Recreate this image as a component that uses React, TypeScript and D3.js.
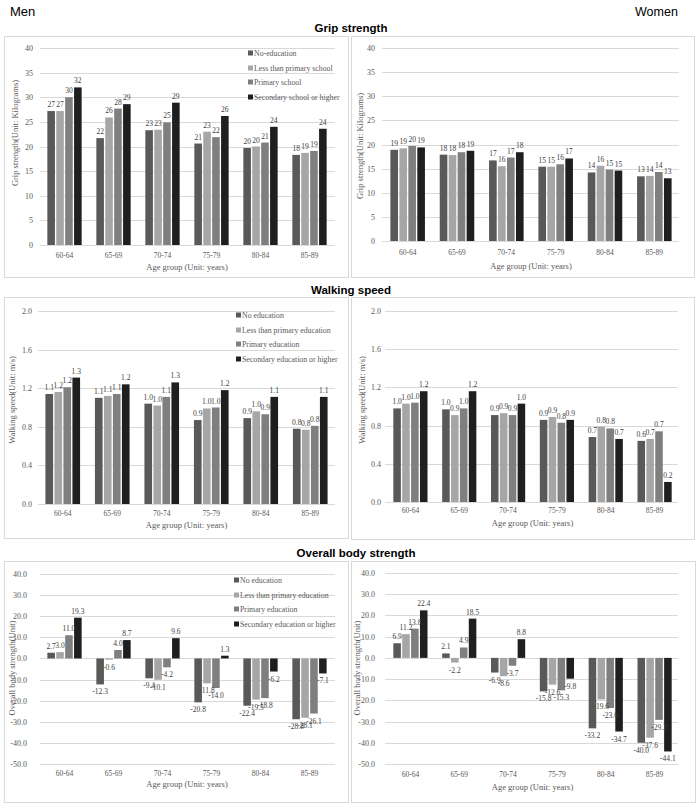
import React from "react";
import * as d3 from "d3";

const AGE_GROUPS = ["60-64", "65-69", "70-74", "75-79", "80-84", "85-89"];
const GRIP_SERIES = ["No-education", "Less than primary school", "Primary school", "Secondary school or higher"];
const EDU_SERIES = ["No education", "Less than primary education", "Primary education", "Secondary education or higher"];
const SERIES_COLORS = ["#595959", "#a6a6a6", "#7f7f7f", "#1f1f1f"];

// Grip strength (kg) - Men
const gripMenNoEdu = [27.2, 21.7, 23.3, 20.6, 19.7, 18.3];
const gripMenLessPrim = [27.2, 25.9, 23.4, 23.0, 20.0, 18.7];
const gripMenPrim = [30.0, 27.7, 24.9, 21.9, 20.8, 19.1];
const gripMenSec = [32.0, 28.6, 28.9, 26.2, 24.0, 23.6];
// Grip strength (kg) - Women
const gripWomenNoEdu = [18.9, 17.9, 16.7, 15.4, 14.2, 13.4];
const gripWomenLessPrim = [19.2, 17.8, 15.5, 15.4, 15.6, 13.5];
const gripWomenPrim = [19.7, 18.4, 17.3, 15.9, 14.8, 14.3];
const gripWomenSec = [19.4, 18.7, 18.4, 17.1, 14.6, 13.0];
// Walking speed (m/s) - Men
const walkMenNoEdu = [1.14, 1.10, 1.04, 0.87, 0.89, 0.78];
const walkMenLessPrim = [1.16, 1.12, 1.02, 0.99, 0.96, 0.77];
const walkMenPrim = [1.21, 1.14, 1.11, 1.00, 0.93, 0.81];
const walkMenSec = [1.31, 1.24, 1.26, 1.18, 1.11, 1.11];
// Walking speed (m/s) - Women
const walkWomenNoEdu = [0.98, 0.97, 0.91, 0.86, 0.68, 0.64];
const walkWomenLessPrim = [1.03, 0.91, 0.93, 0.89, 0.79, 0.66];
const walkWomenPrim = [1.04, 0.98, 0.91, 0.83, 0.77, 0.74];
const walkWomenSec = [1.16, 1.16, 1.03, 0.86, 0.66, 0.21];
// Overall body strength - Men
const bodyMenNoEdu = [2.7, -12.3, -9.4, -20.8, -22.4, -28.8];
const bodyMenLessPrim = [3.0, -0.6, -10.1, -11.8, -19.5, -28.1];
const bodyMenPrim = [11.0, 4.0, -4.2, -14.0, -18.8, -26.1];
const bodyMenSec = [19.3, 8.7, 9.6, 1.3, -6.2, -7.1];
// Overall body strength - Women
const bodyWomenNoEdu = [6.9, 2.1, -6.9, -15.8, -33.2, -40.0];
const bodyWomenLessPrim = [11.2, -2.2, -8.6, -12.6, -19.6, -37.6];
const bodyWomenPrim = [13.8, 4.9, -3.7, -15.3, -23.6, -29.2];
const bodyWomenSec = [22.4, 18.5, 8.8, -9.8, -34.7, -44.1];

const GRIP_TICKS = [0, 5, 10, 15, 20, 25, 30, 35, 40];
const WALK_TICKS = [0, 0.4, 0.8, 1.2, 1.6, 2.0];
const BODY_TICKS = [-50, -40, -30, -20, -10, 0, 10, 20, 30, 40];

const SERIF = "'Liberation Serif', 'Times New Roman', serif";
const SANS = "'Liberation Sans', Arial, sans-serif";
const GRID = "#d9d9d9";
const TXT = "#595959";

type PanelProps = {
  box: [number, number, number, number];
  xRange: [number, number];
  gridX: [number, number];
  yRange: [number, number];
  domain: [number, number];
  ticks: number[];
  tickFmt: (v: number) => string;
  labelFmt: (v: number) => string;
  tickX: number;
  catY: number;
  axisTitleY: number;
  yTitle: string;
  yTitlePos: [number, number];
  series: number[][];
  legend?: string[];
  legendPos?: { sqX: number; textX: number; rows: number[] };
};

function Panel(p: PanelProps) {
  const y = d3.scaleLinear().domain(p.domain).range(p.yRange);
  const x0 = d3.scaleBand<string>().domain(AGE_GROUPS).range(p.xRange).paddingInner(0.3).paddingOuter(0.15);
  const x1 = d3.scaleBand<number>().domain(d3.range(p.series.length)).range([0, x0.bandwidth()]).paddingInner(0.15);
  const y0 = y(0);
  const [bx, by, bw, bh] = p.box;
  const xMid = (p.xRange[0] + p.xRange[1]) / 2;
  return (
    <g>
      <rect x={bx + 0.5} y={by + 0.5} width={bw} height={bh} fill="#fff" stroke={GRID} />
      {p.ticks.map((t) => (
        <g key={"t" + t}>
          <line x1={p.gridX[0]} x2={p.gridX[1]} y1={Math.round(y(t)) + 0.5} y2={Math.round(y(t)) + 0.5} stroke={GRID} />
          <text x={p.tickX} y={y(t) + 3} textAnchor="end" fontFamily={SERIF} fontSize={8} fill={TXT}>
            {p.tickFmt(t)}
          </text>
        </g>
      ))}
      {AGE_GROUPS.map((cat, i) => (
        <g key={cat}>
          {p.series.map((vals, s) => {
            const v = vals[i];
            const bxp = (x0(cat) as number) + (x1(s) as number);
            const yv = y(v);
            return (
              <rect key={s} x={bxp} y={Math.min(yv, y0)} width={x1.bandwidth()} height={Math.abs(yv - y0)} fill={SERIES_COLORS[s]} />
            );
          })}
          {p.series.map((vals, s) => {
            const v = vals[i];
            const cx = (x0(cat) as number) + (x1(s) as number) + x1.bandwidth() / 2;
            const yv = y(v);
            return (
              <text key={"l" + s} x={cx} y={v >= 0 ? yv - 4 : yv + 10} textAnchor="middle" fontFamily={SERIF} fontSize={7.5} fill="#404040">
                {p.labelFmt(v)}
              </text>
            );
          })}
          <text x={(x0(cat) as number) + x0.bandwidth() / 2} y={p.catY + 3} textAnchor="middle" fontFamily={SERIF} fontSize={7.5} fill={TXT}>
            {cat}
          </text>
        </g>
      ))}
      <text x={xMid} y={p.axisTitleY + 3} textAnchor="middle" fontFamily={SERIF} fontSize={8.5} fill={TXT}>
        Age group (Unit: years)
      </text>
      <text
        transform={`translate(${p.yTitlePos[0]},${p.yTitlePos[1]}) rotate(-90)`}
        textAnchor="middle"
        dy="0.35em"
        fontFamily={SERIF}
        fontSize={8.5}
        fill={TXT}
      >
        {p.yTitle}
      </text>
      {p.legend && p.legendPos &&
        p.legend.map((name, s) => (
          <g key={name}>
            <rect x={p.legendPos!.sqX} y={p.legendPos!.rows[s] - 2.5} width={5} height={5} fill={SERIES_COLORS[s]} />
            <text x={p.legendPos!.textX} y={p.legendPos!.rows[s] + 3} fontFamily={SERIF} fontSize={7.8} fill={TXT}>
              {name}
            </text>
          </g>
        ))}
    </g>
  );
}

const f0 = (v: number) => v.toFixed(0);
const f1 = (v: number) => v.toFixed(1);

export default function App() {
  return (
    <div style={{ position: "absolute", left: 0, top: 0 }}>
      <svg width={700} height={807} style={{ display: "block", background: "#fff" }}>
        <text x={10} y={16} fontFamily={SANS} fontSize={13} fill="#000">Men</text>
        <text x={635} y={16} fontFamily={SANS} fontSize={12.5} fill="#000">Women</text>
        <text x={351} y={32} textAnchor="middle" fontFamily={SANS} fontWeight="bold" fontSize={11.5} fill="#000">Grip strength</text>
        <text x={351} y={294} textAnchor="middle" fontFamily={SANS} fontWeight="bold" fontSize={11.5} fill="#000">Walking speed</text>
        <text x={356} y={557} textAnchor="middle" fontFamily={SANS} fontWeight="bold" fontSize={11.5} fill="#000">Overall body strength</text>

        <Panel
          box={[4, 36, 344, 241]}
          xRange={[40, 334]}
          gridX={[40, 335]}
          yRange={[245, 48]}
          domain={[0, 40]}
          ticks={GRIP_TICKS}
          tickFmt={f0}
          labelFmt={f0}
          tickX={33}
          catY={255}
          axisTitleY={267}
          yTitle="Grip strength(Unit: Kilograms)"
          yTitlePos={[15, 133]}
          series={[gripMenNoEdu, gripMenLessPrim, gripMenPrim, gripMenSec]}
          legend={GRIP_SERIES}
          legendPos={{ sqX: 248, textX: 254, rows: [53, 68, 82, 97] }}
        />
        <Panel
          box={[351, 36, 343, 241]}
          xRange={[383, 679]}
          gridX={[382, 679]}
          yRange={[241, 48]}
          domain={[0, 40]}
          ticks={GRIP_TICKS}
          tickFmt={f0}
          labelFmt={f0}
          tickX={375}
          catY={252}
          axisTitleY={266}
          yTitle="Grip strength(Unit: Kilograms)"
          yTitlePos={[360, 146]}
          series={[gripWomenNoEdu, gripWomenLessPrim, gripWomenPrim, gripWomenSec]}
        />
        <Panel
          box={[4, 297, 344, 241]}
          xRange={[38, 335]}
          gridX={[38, 335]}
          yRange={[504, 311]}
          domain={[0, 2]}
          ticks={WALK_TICKS}
          tickFmt={f1}
          labelFmt={f1}
          tickX={32}
          catY={513}
          axisTitleY={525}
          yTitle="Walking speed(Unit: m/s)"
          yTitlePos={[12, 400]}
          series={[walkMenNoEdu, walkMenLessPrim, walkMenPrim, walkMenSec]}
          legend={EDU_SERIES}
          legendPos={{ sqX: 236, textX: 242, rows: [315, 330, 344, 359] }}
        />
        <Panel
          box={[351, 297, 343, 242]}
          xRange={[386, 679]}
          gridX={[385, 678]}
          yRange={[502, 311]}
          domain={[0, 2]}
          ticks={WALK_TICKS}
          tickFmt={f1}
          labelFmt={f1}
          tickX={381}
          catY={510}
          axisTitleY={523}
          yTitle="Walking speed(Unit: m/s)"
          yTitlePos={[362, 400]}
          series={[walkWomenNoEdu, walkWomenLessPrim, walkWomenPrim, walkWomenSec]}
        />
        <Panel
          box={[4, 561, 344, 241]}
          xRange={[40, 334]}
          gridX={[40, 335]}
          yRange={[764, 574]}
          domain={[-50, 40]}
          ticks={BODY_TICKS}
          tickFmt={f1}
          labelFmt={f1}
          tickX={27}
          catY={773}
          axisTitleY={784}
          yTitle="Overall body strength(Unit)"
          yTitlePos={[12, 668]}
          series={[bodyMenNoEdu, bodyMenLessPrim, bodyMenPrim, bodyMenSec]}
          legend={EDU_SERIES}
          legendPos={{ sqX: 234, textX: 240, rows: [580, 595, 609, 624] }}
        />
        <Panel
          box={[351, 561, 344, 241]}
          xRange={[386, 679]}
          gridX={[385, 678]}
          yRange={[764, 573]}
          domain={[-50, 40]}
          ticks={BODY_TICKS}
          tickFmt={f1}
          labelFmt={f1}
          tickX={375}
          catY={774}
          axisTitleY={787}
          yTitle="Overall body strength(Unit)"
          yTitlePos={[357, 668]}
          series={[bodyWomenNoEdu, bodyWomenLessPrim, bodyWomenPrim, bodyWomenSec]}
        />
      </svg>
    </div>
  );
}
